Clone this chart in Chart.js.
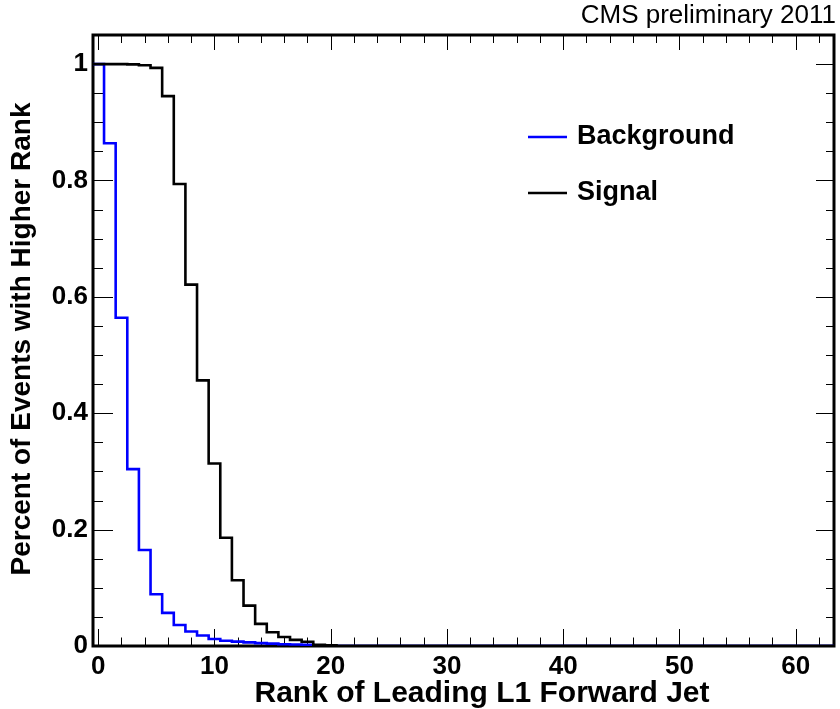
<!DOCTYPE html>
<html><head><meta charset="utf-8">
<script src="https://cdn.jsdelivr.net/npm/chart.js@4"></script>
<style>html,body{margin:0;padding:0;background:#fff;}#wrap{width:840px;height:709px;}</style>
</head><body><div id="wrap"><canvas id="c" width="840" height="709"></canvas></div>
<script>
// ---- data ----
const ranks = [0,1,2,3,4,5,6,7,8,9,10,11,12,13,14,15,16,17,18,19,20,21,22,23,24,25,26,27,28,29,30,31,
  32,33,34,35,36,37,38,39,40,41,42,43,44,45,46,47,48,49,50,51,52,53,54,55,56,57,58,59,60,61,62,63];
const backgroundValues = [1.0,0.864,0.564,0.304,0.165,0.089,0.057,0.036,0.025,0.018,0.012,0.009,0.0075,0.0062,0.005,0.004,
  0.003,0.0025,0.002,0,0,0,0,0,0,0,0,0,0,0,0,0,
  0,0,0,0,0,0,0,0,0,0,0,0,0,0,0,0,0,0,0,0,0,0,0,0,0,0,0,0,0,0,0,0];
const signalValues = [1.0,1.0,1.0,0.9995,0.998,0.9935,0.945,0.794,0.621,0.4565,0.3135,0.186,0.113,0.0693,0.038,0.0237,
  0.0155,0.0105,0.0072,0.002,0.001,0,0,0,0,0,0,0,0,0,0,0,
  0,0,0,0,0,0,0,0,0,0,0,0,0,0,0,0,0,0,0,0,0,0,0,0,0,0,0,0,0,0,0,0];
const seriesNames = ['Background','Signal'];
const xTickValues = [0,10,20,30,40,50,60];
const yTickValues = [0,0.2,0.4,0.6,0.8,1];
const yTickLabels = ['0','0.2','0.4','0.6','0.8','1'];
const xTitle = 'Rank of Leading L1 Forward Jet';
const yTitle = 'Percent of Events with Higher Rank';
const headerText = 'CMS preliminary 2011';

// histogram outline: one point at each bin's lower edge, plus the final upper edge
function histPoints(vals) {
  const pts = ranks.map((r, i) => ({x: r - 0.5, y: vals[i]}));
  pts.push({x: ranks[ranks.length - 1] + 0.5, y: vals[vals.length - 1]});
  return pts;
}

const FONT = '"Liberation Sans", Arial, Helvetica, sans-serif';

const framePlugin = {
  id: 'rootFrame',
  beforeDatasetsDraw(chart) {
    const {ctx, chartArea: a, scales: {x, y}} = chart;
    ctx.save();
    ctx.strokeStyle = '#000';
    ctx.lineWidth = 1;
    ctx.beginPath();
    for (let k = 0; k * 2 <= x.max; k++) {
      const v = k * 2;
      if (v < x.min) continue;
      const px = Math.round(x.getPixelForValue(v)) + 0.5;
      const major = (k % 5 === 0);
      const lb = major ? 17 : 8.5, lt = major ? 15 : 8;
      ctx.moveTo(px, a.bottom); ctx.lineTo(px, a.bottom - lb);
      ctx.moveTo(px, a.top); ctx.lineTo(px, a.top + lt);
    }
    for (let k = 0; k * 0.05 <= y.max + 1e-9; k++) {
      const v = k * 0.05;
      const py = Math.round(y.getPixelForValue(v)) + 0.5;
      const major = (k % 4 === 0);
      const l = major ? 20 : 10;
      ctx.moveTo(a.left, py); ctx.lineTo(a.left + l, py);
      ctx.moveTo(a.right, py); ctx.lineTo(a.right - (major ? 18 : 8), py);
    }
    ctx.stroke();
    ctx.lineWidth = 3;
    ctx.strokeRect(a.left, a.top, a.right - a.left, a.bottom - a.top);
    ctx.restore();
  },
  afterDraw(chart) {
    const {ctx} = chart;
    ctx.save();
    ctx.fillStyle = '#000';
    ctx.font = '26px ' + FONT;
    ctx.textAlign = 'right';
    ctx.textBaseline = 'alphabetic';
    ctx.fillText(headerText, 836, 23);
    ctx.font = 'bold 30px ' + FONT;
    ctx.textAlign = 'center';
    ctx.fillText(xTitle, 482, 702);
    ctx.save();
    ctx.font = 'bold 28px ' + FONT;
    ctx.translate(30, 339);
    ctx.rotate(-Math.PI / 2);
    ctx.textAlign = 'center';
    ctx.textBaseline = 'alphabetic';
    ctx.fillText(yTitle, 0, 0);
    ctx.restore();
    chart.data.datasets.forEach((ds, i) => {
      const ly = 137 + i * 56;
      ctx.strokeStyle = ds.borderColor;
      ctx.lineWidth = 2.4;
      ctx.beginPath();
      ctx.moveTo(528, ly); ctx.lineTo(567, ly);
      ctx.stroke();
      ctx.font = 'bold 27px ' + FONT;
      ctx.textAlign = 'left';
      ctx.textBaseline = 'middle';
      ctx.fillText(ds.label, 577, ly);
    });
    ctx.restore();
  }
};

new Chart(document.getElementById('c'), {
  type: 'line',
  data: {
    datasets: [
      {label: seriesNames[0], data: histPoints(backgroundValues), borderColor: '#0000ff',
       borderWidth: 2.6, stepped: true, pointRadius: 0, fill: false, order: 2},
      {label: seriesNames[1], data: histPoints(signalValues), borderColor: '#000000',
       borderWidth: 2.6, stepped: true, pointRadius: 0, fill: false, order: 1}
    ]
  },
  options: {
    responsive: false,
    animation: false,
    devicePixelRatio: 1,
    layout: {padding: {top: 35, right: 6, left: 0, bottom: 0}},
    plugins: {legend: {display: false}, tooltip: {enabled: false}, title: {display: false}},
    scales: {
      x: {
        type: 'linear', min: -0.45, max: 63.3,
        grid: {display: false, drawTicks: false},
        border: {display: false},
        afterBuildTicks: s => { s.ticks = xTickValues.map(v => ({value: v})); },
        afterFit: s => { s.height = 63; },
        ticks: {color: '#000', font: {family: FONT, size: 26, weight: 'bold'}, padding: 5,
                maxRotation: 0, autoSkip: false, callback: v => String(v)}
      },
      y: {
        type: 'linear', min: 0, max: 1.05,
        grid: {display: false, drawTicks: false},
        border: {display: false},
        afterBuildTicks: s => { s.ticks = yTickValues.map(v => ({value: v})); },
        afterFit: s => { s.width = 93; },
        ticks: {color: '#000', font: {family: FONT, size: 26, weight: 'bold'}, padding: 5,
                autoSkip: false, callback: (v) => yTickLabels[yTickValues.indexOf(v)] ?? ''}
      }
    }
  },
  plugins: [framePlugin]
});
</script></body></html>
